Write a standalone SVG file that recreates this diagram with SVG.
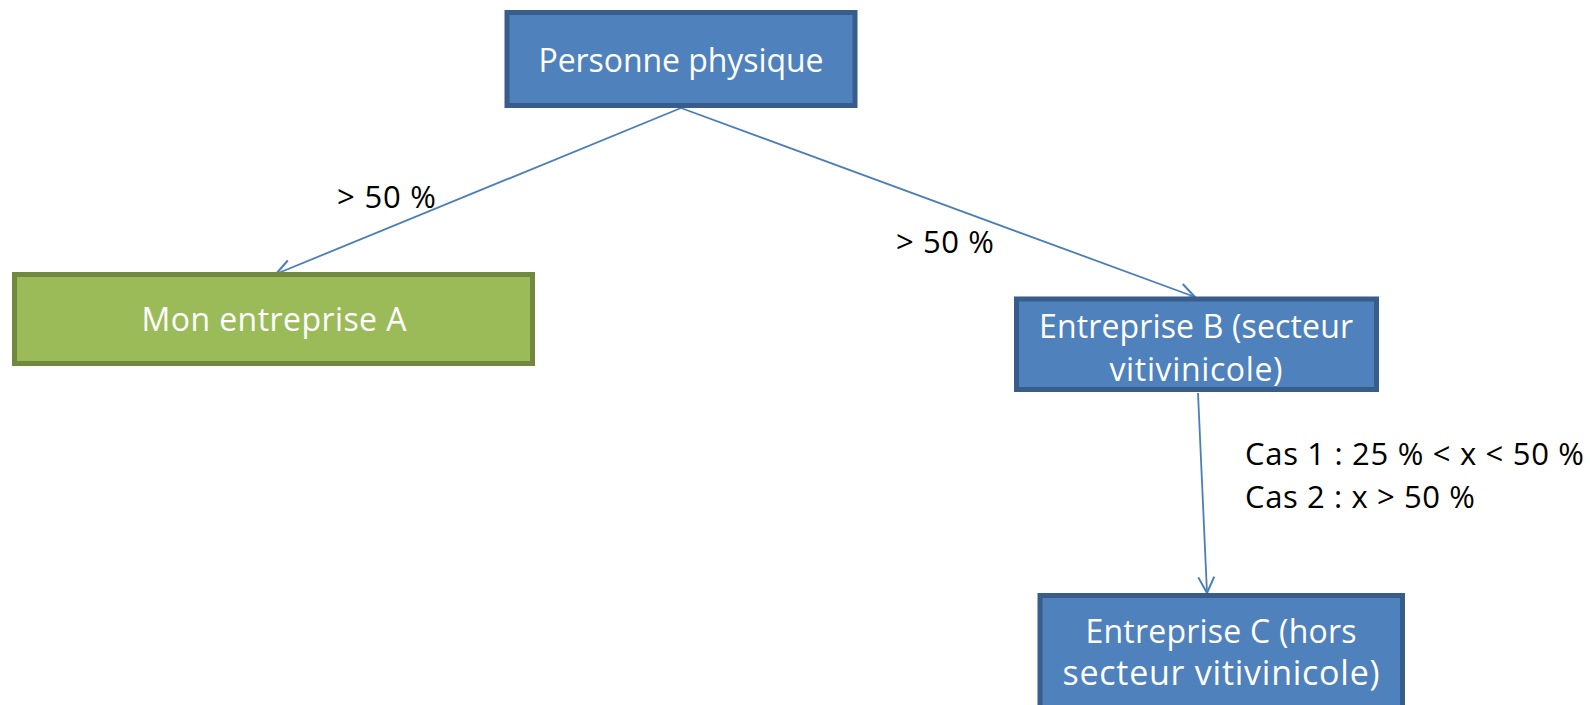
<svg xmlns="http://www.w3.org/2000/svg" width="1590" height="705" viewBox="0 0 1590 705">
<defs>
<style>
.blue{fill:#4f81bd;stroke:#385d8a;stroke-width:5}
.green{fill:#9bbb59;stroke:#71893f;stroke-width:5}
.nt{font-family:"Open Sans","Liberation Sans",sans-serif;font-size:32px;fill:#ffffff;text-anchor:middle}
.lbl{font-family:"Open Sans","Liberation Sans",sans-serif;font-size:31px;fill:#000000}
.conn{stroke:#4a7ebb;stroke-width:1.8;fill:none}
</style>
<marker id="arr" markerWidth="24" markerHeight="24" refX="17" refY="9" orient="auto" markerUnits="userSpaceOnUse">
<path d="M1,1 L17,9 L1,17" fill="none" stroke="#4a7ebb" stroke-width="2"/>
</marker>
</defs>
<rect width="1590" height="705" fill="#ffffff"/>
<g id="connectors">
<line class="conn" x1="681" y1="108" x2="276" y2="274" marker-end="url(#arr)"/>
<line class="conn" x1="681" y1="108" x2="1195" y2="297" marker-end="url(#arr)"/>
<line class="conn" x1="1198" y1="393" x2="1207" y2="593" marker-end="url(#arr)"/>
</g>
<g id="node-personne">
<rect class="blue" x="507" y="12.5" width="348" height="93"/>
<text class="nt" x="681" y="72" textLength="285">Personne physique</text>
</g>
<g id="node-a">
<rect class="green" x="14.5" y="274.5" width="518" height="89"/>
<text class="nt" x="274" y="331" textLength="265">Mon entreprise A</text>
</g>
<g id="node-b">
<rect class="blue" x="1016.5" y="299" width="360" height="90.5"/>
<text class="nt" x="1196" y="338" textLength="314">Entreprise B (secteur</text>
<text class="nt" x="1196" y="381" textLength="173">vitivinicole)</text>
</g>
<g id="node-c">
<rect class="blue" x="1040" y="595.5" width="362.5" height="125"/>
<text class="nt" x="1221" y="643" textLength="271">Entreprise C (hors</text>
<text class="nt" x="1221" y="685" textLength="317" style="font-size:34px">secteur vitivinicole)</text>
</g>
<g id="labels">
<text class="lbl" x="337" y="208" textLength="99">&gt; 50 %</text>
<text class="lbl" x="896" y="253" textLength="98">&gt; 50 %</text>
<text class="lbl" x="1245" y="465" textLength="339">Cas 1 : 25 % &lt; x &lt; 50 %</text>
<text class="lbl" x="1245" y="508" textLength="230">Cas 2 : x &gt; 50 %</text>
</g>
</svg>
